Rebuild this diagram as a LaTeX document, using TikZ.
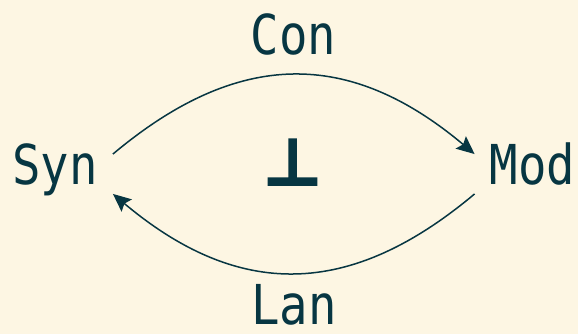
\documentclass[tikz,border=0pt]{standalone}
\usepackage{fontspec}
\setmonofont[FakeStretch=0.86]{DejaVu Sans Mono}
\newfontfamily\symfont[FakeBold=2.5]{DejaVu Sans}
\usetikzlibrary{arrows.meta}
\definecolor{paper}{HTML}{FDF6E3}
\definecolor{ink}{HTML}{073642}
\tikzstyle{obj} = [
    text=ink,
    font=\ttfamily\fontsize{55}{60}\selectfont,
    inner xsep=15pt,
    inner ysep=2pt,
    text height=40pt,
    text depth=18pt,
    anchor=base
]
\tikzstyle{funlabel} = [
    obj,
    inner sep=0pt,
    text depth=0pt
]
\tikzstyle{adj} = [
    text=ink,
    font=\symfont\bfseries\fontsize{65}{70}\selectfont,
    inner sep=0pt,
    anchor=base
]
\tikzstyle{functor} = [
    -{Stealth[length=18pt,width=16pt,inset=3pt]},
    line width=1.5pt,
    draw=ink,
    looseness=1.16
]

\begin{document}
\begin{tikzpicture}[x=1pt, y=1pt]
        % Background
        \fill[paper] (0,0) rectangle (578,334);
        \useasboundingbox (0,0) rectangle (578,334);

        % Categories
        \node[obj] (syn) at (55,149) {Syn};
        \node[obj] (mod) at (532.5,149) {Mod};

        % Functor labels
        \node[funlabel] (con) at (293.5,279) {Con};
        \node[funlabel] (lan) at (294,9) {Lan};
        \node[adj] (perp) at (292.5,149) {⊥};

        % Functors
        \draw[functor] (syn.19) to[out=40, in=140] (mod.161);
        \draw[functor] (mod.199) to[out=220, in=320] (syn.-19);
    \end{tikzpicture}
\end{document}
